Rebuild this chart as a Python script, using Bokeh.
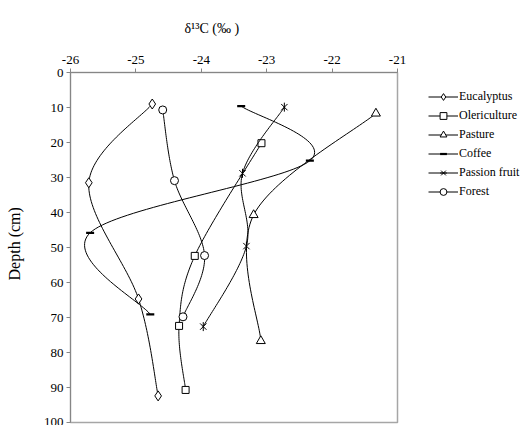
import numpy as np
from math import pi
from bokeh.plotting import figure
from bokeh.layouts import row
from bokeh.models import Range1d, FixedTicker, Legend, LegendItem, Label
from bokeh.embed import file_html
from bokeh.resources import INLINE

# ---- data (delta13C in per mil, depth in cm) ----
series_names = ["Eucalyptus", "Olericulture", "Pasture", "Coffee", "Passion fruit", "Forest"]

eucalyptus_d13c = [-24.75, -25.72, -24.96, -24.66]
eucalyptus_depth = [9.0, 31.5, 64.7, 92.4]

olericulture_d13c = [-23.08, -24.10, -24.34, -24.24]
olericulture_depth = [20.2, 52.4, 72.4, 90.7]

pasture_d13c = [-21.33, -23.20, -23.09]
pasture_depth = [11.7, 40.7, 76.7]

coffee_d13c = [-23.39, -22.34, -25.70, -24.78]
coffee_depth = [9.6, 25.2, 45.8, 69.1]

passion_d13c = [-22.73, -23.37, -23.31, -23.97]
passion_depth = [9.9, 28.8, 49.6, 72.6]

forest_d13c = [-24.59, -24.41, -23.95, -24.28]
forest_depth = [10.7, 30.9, 52.3, 69.8]

x_ticks = [-26, -25, -24, -23, -22, -21]
x_tick_labels = ["-26", "-25", "-24", "-23", "-22", "-21"]
y_ticks = [0, 10, 20, 30, 40, 50, 60, 70, 80, 90, 100]
y_tick_labels = ["0", "10", "20", "30", "40", "50", "60", "70", "80", "90", "100"]

title_text = "δ¹³C (‰ )"
ylabel_text = "Depth (cm)"

FONT = "Liberation Serif"
H = 425


def smooth(xs, ys, n=40):
    """Bezier smoothing through the points (Catmull-Rom style, like Excel smoothed lines)."""
    P = np.column_stack([xs, ys]).astype(float)
    m = len(P)
    out = [P[0]]
    for i in range(m - 1):
        p0, p1 = P[i], P[i + 1]
        pm = P[i - 1] if i > 0 else P[i]
        pp = P[i + 2] if i + 2 < m else P[i + 1]
        c1 = p0 + (p1 - pm) / 6.0
        c2 = p1 - (pp - p0) / 6.0
        t = np.linspace(0, 1, n)[1:, None]
        b = ((1 - t) ** 3) * p0 + 3 * ((1 - t) ** 2) * t * c1 + 3 * (1 - t) * t ** 2 * c2 + t ** 3 * p1
        out.extend(list(b))
    out = np.array(out)
    return out[:, 0], out[:, 1]


def blank(width):
    f = figure(width=width, height=H, output_backend="svg", toolbar_location=None,
               x_axis_type=None, y_axis_type=None,
               min_border_left=0, min_border_right=0, min_border_top=0, min_border_bottom=0)
    f.xgrid.visible = False
    f.ygrid.visible = False
    f.outline_line_color = None
    return f


# ---- left strip with the y-axis title ----
L_W = 30
left = blank(L_W)
left.x_range = Range1d(0, L_W)
left.y_range = Range1d(H, 0)
left.add_layout(Label(x=14, y=208, text=ylabel_text, angle=pi / 2, text_font=FONT,
                      text_font_size="16px", text_align="center", text_baseline="middle",
                      text_color="black"))

# ---- main plot ----
p = figure(width=379, height=H, output_backend="svg", toolbar_location=None,
           x_axis_location="above",
           x_range=Range1d(-26, -21), y_range=Range1d(100, 0),
           min_border_left=40, min_border_right=12, min_border_top=72, min_border_bottom=3)
p.xgrid.visible = False
p.ygrid.visible = False
p.outline_line_color = "#a6a6a6"
p.outline_line_width = 1.5

p.title.text = title_text
p.title.align = "left"
p.title.offset = 114
p.title.text_font = FONT
p.title.text_font_size = "14px"
p.title.text_font_style = "normal"
p.title.text_color = "black"
p.title.standoff = 33

for ax, ticks, labels, standoff in ((p.xaxis, x_ticks, x_tick_labels, 5), (p.yaxis, y_ticks, y_tick_labels, 3)):
    ax.ticker = FixedTicker(ticks=ticks)
    ax.major_label_overrides = {t: l for t, l in zip(ticks, labels)}
    ax.axis_line_color = "#868686"
    ax.major_tick_line_color = "#868686"
    ax.major_tick_in = 0
    ax.major_tick_out = 4
    ax.minor_tick_in = 0
    ax.minor_tick_out = 0
    ax.major_label_text_font = FONT
    ax.major_label_text_font_size = "13px"
    ax.major_label_text_color = "black"
    ax.major_label_standoff = standoff

# ---- legend strip (its renderers hold the series but sit outside its view) ----
R_W = 524 - L_W - 379
leg = blank(R_W)
leg.x_range = Range1d(0, 1)
leg.y_range = Range1d(0, 1)

items = []


def add_series(name, xs, ys, marker, size, extra=None):
    sx, sy = smooth(xs, ys)
    p.line(sx, sy, line_color="black", line_width=1)
    ls = [leg.line(xs, ys, line_color="black", line_width=1)]
    if marker == "dash":
        kw = dict(marker="dash", line_color="black", line_width=2.2)
        p.scatter(xs, ys, size=size, **kw)
        ls.append(leg.scatter(xs, ys, size=size, **kw))
    else:
        kw = dict(marker=marker, line_color="black", fill_color="white", line_width=1)
        p.scatter(xs, ys, size=size, **kw)
        ls.append(leg.scatter(xs, ys, size=size - 2, **kw))
    if extra == "vbar":
        kw = dict(marker="dash", angle=pi / 2, line_color="black", line_width=1)
        p.scatter(xs, ys, size=size, **kw)
        ls.append(leg.scatter(xs, ys, size=size - 2, **kw))
    items.append(LegendItem(label=name, renderers=ls))


add_series(series_names[0], eucalyptus_d13c, eucalyptus_depth, "diamond", 10)
add_series(series_names[1], olericulture_d13c, olericulture_depth, "square", 7)
add_series(series_names[2], pasture_d13c, pasture_depth, "triangle", 9)
add_series(series_names[3], coffee_d13c, coffee_depth, "dash", 8)
add_series(series_names[4], passion_d13c, passion_depth, "x", 9, extra="vbar")
add_series(series_names[5], forest_d13c, forest_depth, "circle", 8)

legend = Legend(items=items, location=(19, 222), glyph_width=30, glyph_height=17,
                label_height=17, spacing=2, padding=0, margin=0, label_standoff=1,
                label_text_font=FONT, label_text_font_size="12px", label_text_color="black",
                border_line_color=None, background_fill_alpha=0)
leg.add_layout(legend, "center")

layout = row(left, p, leg, spacing=0)
open("out.html", "w").write(file_html(layout, INLINE))
